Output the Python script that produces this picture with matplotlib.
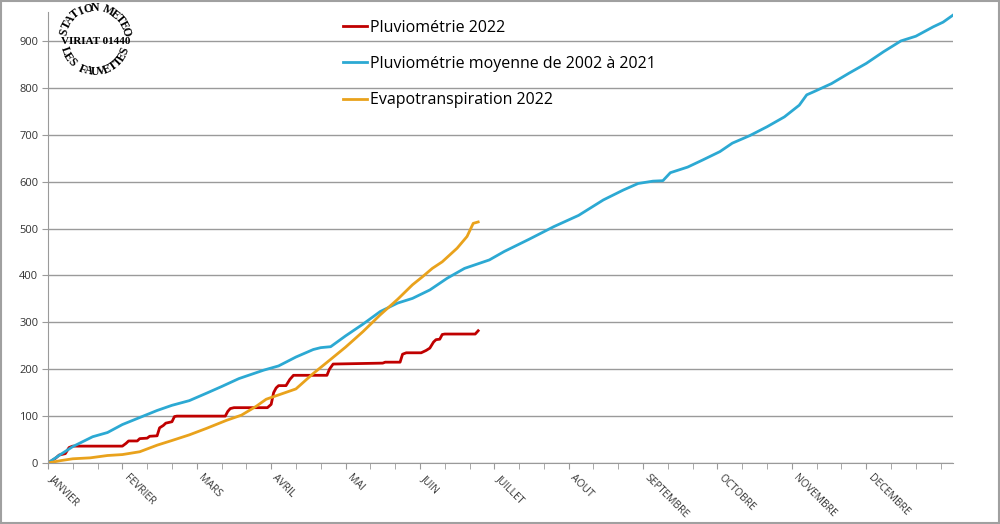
import numpy as np
import matplotlib
matplotlib.use("Agg")
import matplotlib.pyplot as plt
import matplotlib.transforms as mtransforms
from matplotlib.patches import Rectangle

# cumulative rainfall / ETP in mm, x = day of year (0 = 1st january)
pluie_2022_jours = [0, 3, 4.5, 7, 8.5, 10, 30, 31.5, 32.5, 36, 37, 40, 41, 44, 45, 46.5, 47.5,
                    50, 51, 52, 71.5, 72.5, 73.5, 75, 88.5, 90, 91, 92, 93, 96, 97.5, 99,
                    112.5, 113.5, 115, 125, 135, 136, 142, 143, 144.5, 150.5, 152.5, 154,
                    155.5, 156.5, 158, 159, 160, 172.3, 173.5]
pluie_2022 = [0, 10, 17, 20, 33, 36, 36, 42, 47, 47, 52, 53, 57, 58, 75, 80, 85,
              88, 99, 100, 100, 110, 116, 118, 118, 125, 150, 160, 165, 165, 178, 187,
              187, 200, 211, 212, 213, 215, 215, 232, 235, 235, 240, 245,
              258, 263, 264, 274, 275, 275, 282]

moyenne_jours = [0, 5, 10, 18, 24, 30, 37, 44, 50, 57, 64, 70, 77, 87, 93, 100, 107, 110,
                 114, 120, 127, 134, 141, 147, 154, 161, 168, 178, 184, 194, 204, 214, 224,
                 232, 238, 244, 248, 251, 258, 264, 271, 276, 283, 290, 297, 303, 306, 309,
                 316, 323, 330, 337, 344, 350, 357, 361, 365]
moyenne_2002_2021 = [0, 18, 35, 56, 65, 82, 97, 112, 123, 133, 149, 163, 180, 198, 207, 226,
                     242, 246, 248, 271, 296, 323, 341, 351, 369, 394, 415, 433, 451, 477,
                     504, 528, 561, 582, 596, 601, 602, 619, 631, 646, 664, 682, 698, 717,
                     738, 763, 785, 792, 809, 831, 852, 877, 900, 910, 930, 940, 955]

etp_jours = [0, 5, 10, 17, 24, 30, 37, 44, 50, 57, 64, 72, 78, 84, 88, 94, 100, 107, 114,
             120, 127, 134, 141, 147, 151, 155, 159, 165, 169, 171.5, 173.5]
etp_2022 = [0, 5, 9, 11, 16, 18, 24, 38, 48, 60, 74, 91, 102, 121, 136, 147, 158, 191, 221,
            247, 280, 316, 349, 380, 397, 415, 429, 458, 483, 511, 514]

mois = ["JANVIER", "FEVRIER", "MARS", "AVRIL", "MAI", "JUIN", "JUILLET", "AOUT",
        "SEPTEMBRE", "OCTOBRE", "NOVEMBRE", "DECEMBRE"]
mois_pos = list(range(0, 360, 30))

plt.rcParams['font.family'] = ['Open Sans', 'DejaVu Sans']

fig = plt.figure(figsize=(10, 5.24), dpi=100)
ax = fig.add_axes([0.048, 0.1164, 0.905, 0.861])

ax.plot(pluie_2022_jours, pluie_2022, color="#C00000", lw=2.0, label="Pluviométrie 2022")
ax.plot(moyenne_jours, moyenne_2002_2021, color="#2CA9D3", lw=2.0,
        label="Pluviométrie moyenne de 2002 à 2021")
ax.plot(etp_jours, etp_2022, color="#E9A21C", lw=2.0, label="Evapotranspiration 2022")

ax.set_xlim(0, 365)
ax.set_ylim(0, 962)
ax.set_yticks(range(0, 1000, 100))
ax.grid(axis='y', color="#9a9a9a", lw=1)
ax.set_axisbelow(True)

ax.set_xticks(range(0, 365, 10), minor=True)
ax.set_xticks(mois_pos)
ax.set_xticklabels(mois, rotation=-45, ha='left', va='top', rotation_mode='anchor')
ax.tick_params(axis='x', which='both', length=4, color="#9a9a9a", labelsize=7.5,
               labelcolor="#333333", pad=3)
ax.tick_params(axis='y', length=4, color="#9a9a9a", labelsize=8, labelcolor="#333333", pad=3)
# month labels start a little right of their tick, like in excel
shift = mtransforms.ScaledTranslation(7 / 100, 0, fig.dpi_scale_trans)
for lab in ax.get_xticklabels():
    lab.set_transform(lab.get_transform() + shift)

for s in ['top', 'right']:
    ax.spines[s].set_visible(False)
for s in ['left', 'bottom']:
    ax.spines[s].set_color("#9a9a9a")

fig.legend(loc='upper left', bbox_to_anchor=(0.329, 0.99), frameon=False, fontsize=11.5,
           handlelength=1.5, handletextpad=0.15, labelspacing=1.27)

# stamp
cx, cy = 95, 40
def put(px, py, s, rot, size=8.5):
    fig.text(px / 1000, 1 - py / 524, s, rotation=rot, ha='center', va='center',
             family='Liberation Serif', fontweight='bold', fontsize=size,
             rotation_mode='anchor')

top = "STATION METEO"
angles = np.linspace(165, 15, len(top))
for ch, a in zip(top, angles):
    r = 32
    put(cx + r * np.cos(np.radians(a)), cy - r * np.sin(np.radians(a)), ch, a - 90)

bottom = "LES FAUVETTES"
angles = np.linspace(200, 340, len(bottom))
for ch, a in zip(bottom, angles):
    r = 32
    put(cx + r * np.cos(np.radians(a)), cy - r * np.sin(np.radians(a)), ch, a + 90)

put(cx + 1, cy + 2, "VIRIAT 01440", 0, size=8)

fig.add_artist(Rectangle((0.001, 0.002), 0.998, 0.996, transform=fig.transFigure,
                         fill=False, edgecolor="#a0a0a0", lw=1.5))

fig.savefig("out.png", dpi=100)
